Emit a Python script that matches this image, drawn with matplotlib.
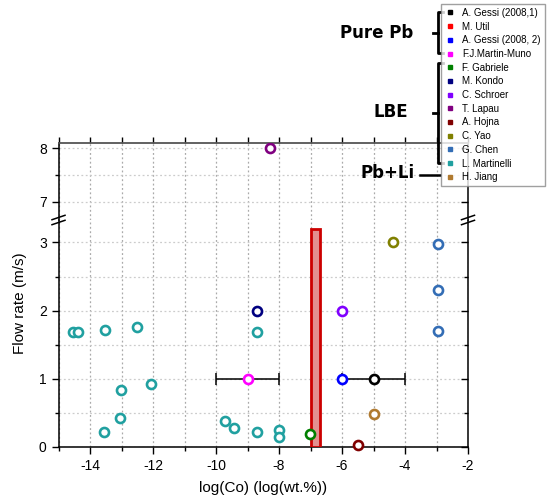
import matplotlib
matplotlib.use("Agg")
import matplotlib.pyplot as plt
from matplotlib.lines import Line2D

plt.rcParams['font.family'] = ['Liberation Sans', 'DejaVu Sans']
plt.rcParams['axes.unicode_minus'] = False

# ---- data ----
names = ['A. Gessi (2008,1)', 'M. Util', 'A. Gessi (2008, 2)', 'F.J.Martin-Muno',
         'F. Gabriele', 'M. Kondo', 'C. Schroer', 'T. Lapau', 'A. Hojna',
         'C. Yao', 'G. Chen', 'L. Martinelli', 'H. Jiang']
colors = ['#000000', '#ff0000', '#0000ff', '#ff00ff', '#008000', '#000080',
          '#8000ff', '#800080', '#800000', '#808000', '#336db5', '#20a0a0', '#b07a30']

pts = {
    'A. Gessi (2008,1)': ([-5.0], [1.0]),
    'A. Gessi (2008, 2)': ([-6.0], [1.0]),
    'F.J.Martin-Muno': ([-9.0], [1.0]),
    'F. Gabriele': ([-7.02], [0.18]),
    'M. Kondo': ([-8.7], [2.0]),
    'C. Schroer': ([-6.0], [2.0]),
    'T. Lapau': ([-8.3], [8.0]),
    'A. Hojna': ([-5.5], [0.02]),
    'C. Yao': ([-4.38], [3.0]),
    'G. Chen': ([-2.95, -2.95, -2.95], [2.98, 2.30, 1.70]),
    'L. Martinelli': ([-14.53, -14.39, -13.52, -12.52, -8.71, -13.02, -12.06,
                       -13.05, -13.55, -9.71, -9.42, -8.71, -8.0, -8.0],
                      [1.69, 1.69, 1.72, 1.76, 1.69, 0.84, 0.92,
                       0.42, 0.22, 0.38, 0.27, 0.21, 0.25, 0.14]),
    'H. Jiang': ([-5.0], [0.48]),
}
# error bars (x, y, half-width)
err_gessi1 = (-5.0, 1.0, 1.0)
err_martin = (-9.0, 1.0, 1.0)
# M. Util range bar
util_x, util_w, util_h = -7.0, 0.3, 3.2

fig = plt.figure(figsize=(5.53, 4.99), dpi=100)
axl = fig.add_axes([58.5 / 553, 1 - 446.7 / 499, 409.5 / 553, 226.7 / 499])
axu = fig.add_axes([58.5 / 553, 1 - 220 / 499, 409.5 / 553, 77 / 499], sharex=axl)

col = dict(zip(names, colors))

axl.bar(util_x, util_h, width=util_w, align='edge', color='#e39090',
        edgecolor='#cc0000', linewidth=2, zorder=3)

for x, y, e in [err_gessi1, err_martin]:
    axl.errorbar([x], [y], xerr=[e], fmt='none', ecolor='black', elinewidth=1.1,
                 capsize=4, capthick=1.1, zorder=3)

for n in names:
    if n not in pts:
        continue
    xs, ys = pts[n]
    for ax in (axl, axu):
        ax.plot(xs, ys, 'o', ms=6.5, mfc='white', mec=col[n], mew=1.9, zorder=4,
                clip_on=(ax is axu))

axl.set_xlim(-15, -2)
axl.set_ylim(0, 3.33)
axu.set_ylim(6.66, 8.1)

for ax in (axl, axu):
    ax.set_xticks(range(-14, -1, 2))
    ax.set_xticks(range(-15, -1, 1), minor=True)
    ax.grid(True, which='both', axis='x', color='#aaaaaa', ls=(0, (1.5, 2)), lw=0.9)
    ax.grid(True, which='both', axis='y', color='#cccccc', ls=(0, (1.5, 2)), lw=0.9)
    ax.set_axisbelow(True)
    ax.tick_params(axis='y', which='both', left=True, right=True, direction='out',
                   labelsize=10, length=5, width=1)
    ax.tick_params(axis='y', which='minor', length=3)
    for s in ('left', 'right'):
        ax.spines[s].set_linewidth(1.1)

axl.set_yticks([0, 1, 2, 3])
axl.set_yticks([0.5, 1.5, 2.5], minor=True)
axu.set_yticks([7, 8])
axu.set_yticks([7.5], minor=True)

axl.spines['top'].set_visible(False)
axu.spines['bottom'].set_visible(False)
axl.spines['bottom'].set_linewidth(1.1)
axu.spines['top'].set_linewidth(1.3)
axu.spines['top'].set_color('#555555')

axl.tick_params(axis='x', which='major', direction='out', length=5, width=1,
                labelsize=10, top=False)
axl.tick_params(axis='x', which='minor', direction='out', length=3, width=1, top=False)
axu.tick_params(axis='x', which='both', bottom=False, labelbottom=False, top=True,
                direction='out', length=4, width=1)
# right-side ticks point inward
for ax in (axl, axu):
    for tk in ax.yaxis.get_major_ticks() + ax.yaxis.get_minor_ticks():
        tk.tick2line.set_marker(0)

axl.set_xlabel('log(Co) (log(wt.%))', fontsize=11, labelpad=6)
fig.text(20 / 553, 1 - 303 / 499, 'Flow rate (m/s)', rotation=90, fontsize=11,
         ha='center', va='center')

# axis break marks
yb = 1 - 220 / 499
for xp in (58.5 / 553, 468 / 553):
    for dy in (-2.5, 2.5):
        fig.add_artist(Line2D([xp - 6.5 / 553, xp + 6.5 / 553],
                              [yb + (dy - 2.2) / 499, yb + (dy + 2.2) / 499],
                              color='black', lw=1.1))

# legend
handles = [Line2D([], [], ls='none', marker='s', ms=3.5, mfc=c, mec=c) for c in colors]
fig.legend(handles, names, loc='upper left', bbox_to_anchor=(441 / 553, 1 - 4 / 499),
           fontsize=7, frameon=True, fancybox=False, edgecolor='#888888',
           handlelength=1.0, handletextpad=0.8, labelspacing=0.38, borderpad=0.4,
           borderaxespad=0)

# group brackets
def bracket(y0, y1):
    x0 = 438 / 553
    x1 = 443 / 553
    a, b = 1 - y0 / 499, 1 - y1 / 499
    fig.add_artist(Line2D([x1, x0, x0, x1], [a, a, b, b], color='black', lw=2))
    fig.add_artist(Line2D([433 / 553, x0], [(a + b) / 2] * 2, color='black', lw=2))

bracket(12, 53)
bracket(63, 163)
fig.add_artist(Line2D([420 / 553, 440 / 553], [1 - 175 / 499] * 2, color='black', lw=1.8))

lab = dict(fontsize=12, fontweight='bold', family='DejaVu Sans', ha='right', va='center')
fig.text(413 / 553, 1 - 33 / 499, 'Pure Pb', **lab)
fig.text(408 / 553, 1 - 112 / 499, 'LBE', **lab)
fig.text(415 / 553, 1 - 173 / 499, 'Pb+Li', **lab)

fig.savefig('out.png', dpi=100)
